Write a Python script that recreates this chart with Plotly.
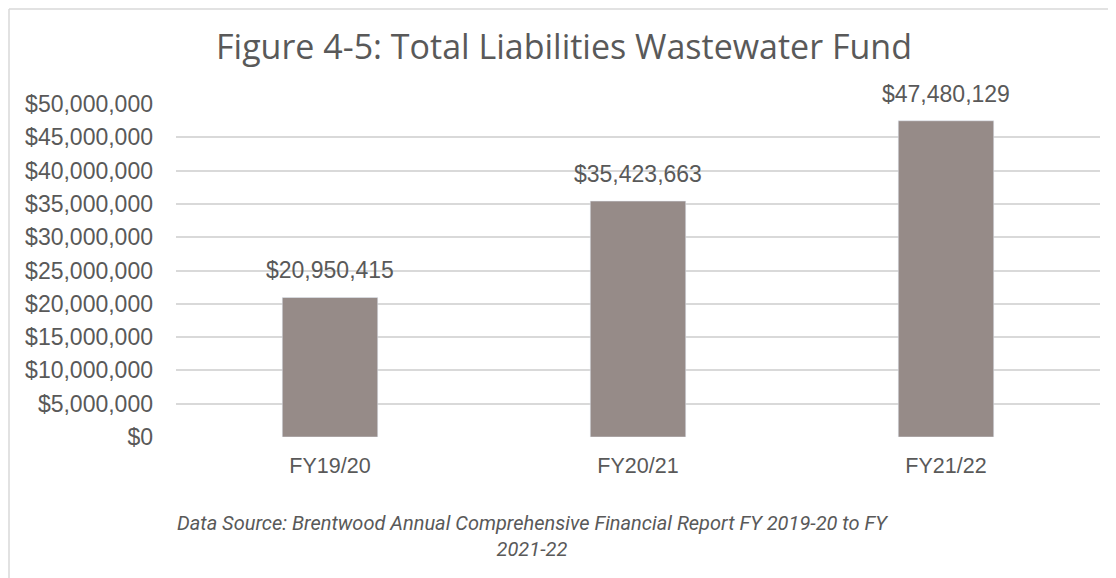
import plotly.graph_objects as go

# Data
years = ["FY19/20", "FY20/21", "FY21/22"]
liabilities = [20950415, 35423663, 47480129]
tick_vals = [0, 5e6, 10e6, 15e6, 20e6, 25e6, 30e6, 35e6, 40e6, 45e6, 50e6]
tick_text = ["$0", "$5,000,000", "$10,000,000", "$15,000,000", "$20,000,000",
             "$25,000,000", "$30,000,000", "$35,000,000", "$40,000,000",
             "$45,000,000", "$50,000,000"]

COLORS = {
    "bar":    "#968b88",
    "text":   "#595959",
    "grid":   "#d9d9d9",
    "border": "#d9d9d9",
}
FONT = "'Liberation Sans', Arial, sans-serif"
TITLE_FONT = "'Open Sans', Arial, sans-serif"
CAPTION_FONT = "Roboto, Arial, sans-serif"

W, H = 1116, 578
OFF = 8  # page body margin
L, R, T, B = 176 - OFF, 16 + OFF, 104 - OFF, 141 + OFF
pw, ph = W - L - R, H - T - B


def px_x(x):
    return (x - OFF - L) / pw


def px_y(y):
    return (H - B - (y - OFF)) / ph


fig = go.Figure(go.Bar(
    x=years,
    y=liabilities,
    marker_color=COLORS["bar"],
    hovertemplate="%{x}: $%{y:,.0f}<extra></extra>",
))

# value labels above the bars
for yr, v in zip(years, liabilities):
    fig.add_annotation(x=yr, y=v, text=f"${v:,.0f}", showarrow=False,
                       yanchor="bottom", yshift=12,
                       font=dict(color=COLORS["text"], size=23, family=FONT))

# chart frame (left and top edges, as far as the page shows them)
fig.add_shape(type="line", xref="paper", yref="paper",
              x0=px_x(OFF + 1), x1=px_x(1130), y0=px_y(OFF + 1), y1=px_y(OFF + 1),
              line=dict(color=COLORS["border"], width=1.5))
fig.add_shape(type="line", xref="paper", yref="paper",
              x0=px_x(OFF + 1), x1=px_x(OFF + 1), y0=px_y(OFF + 1), y1=px_y(600),
              line=dict(color=COLORS["border"], width=1.5))

fig.add_annotation(
    xref="paper", yref="paper", x=px_x(532), y=px_y(536),
    text="<i>Data Source: Brentwood Annual Comprehensive Financial Report FY 2019-20 to FY</i>"
         "<br><i>2021-22</i>",
    showarrow=False, align="center", yanchor="middle",
    font=dict(color=COLORS["text"], size=20, family=CAPTION_FONT),
)

fig.update_layout(
    title=dict(text="Figure 4-5: Total Liabilities Wastewater Fund",
               x=(564 - OFF) / W, xanchor="center",
               y=1 - (47 - OFF) / H, yanchor="middle",
               font=dict(color=COLORS["text"], size=34, family=TITLE_FONT)),
    width=W, height=H,
    paper_bgcolor="white",
    plot_bgcolor="white",
    font=dict(color=COLORS["text"], family=FONT),
    bargap=0.69,
    showlegend=False,
    xaxis=dict(showgrid=False, showline=False, ticks="",
               tickfont=dict(size=21.5, color=COLORS["text"]), ticklabelstandoff=13),
    yaxis=dict(range=[0, 50e6], tickvals=tick_vals, ticktext=tick_text,
               gridcolor=COLORS["grid"], gridwidth=1.5, zeroline=False,
               showline=False, ticks="", ticklabelstandoff=22,
               tickfont=dict(size=23, color=COLORS["text"])),
    margin=dict(l=L, r=R, t=T, b=B),
)

fig.write_html("out.html")
